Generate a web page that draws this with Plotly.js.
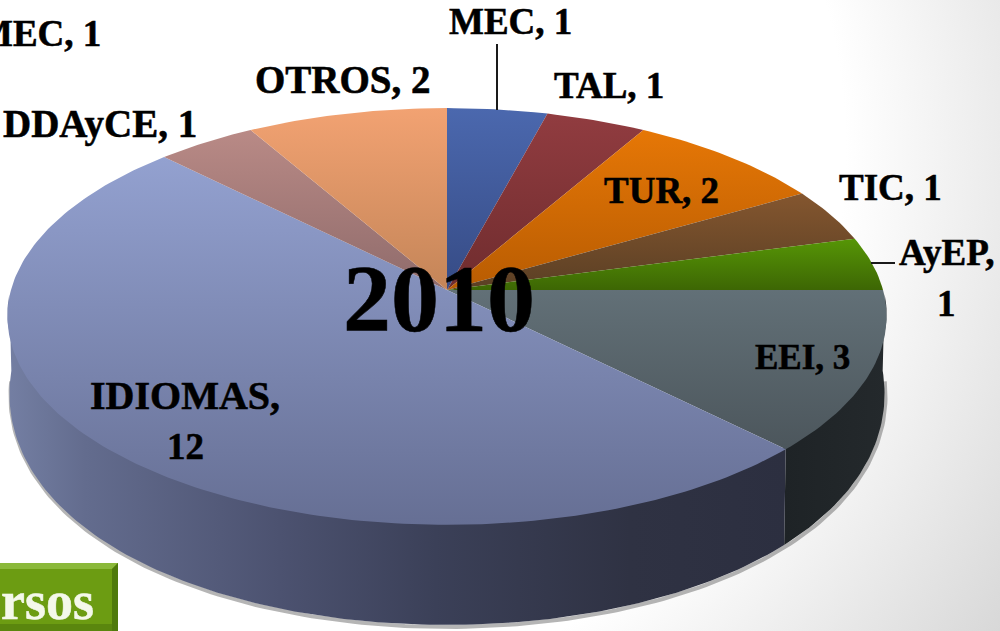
<!DOCTYPE html>
<html><head><meta charset="utf-8">
<script src="https://cdn.plot.ly/plotly-3.0.1.min.js"></script>
<style>html,body{margin:0;padding:0;width:1000px;height:631px;overflow:hidden;background:radial-gradient(circle 880px at 300px 150px,#ffffff 62%,#d4d4d4 100%);}#c{width:1000px;height:631px}
.annotation-text{stroke:#000;stroke-width:.55px}
.annotation[data-index="13"] .annotation-text{stroke:#f4f8ea}
</style>
</head><body><div id="c"></div>
<script>
const categories=["MEC","TAL","TUR","TIC","AyEP","EEI","IDIOMAS","DDAyCE","OTROS"];
const values=[1,1,2,1,1,3,12,1,2];
const topLight=["#4b68ae","#913c40","#e67706","#84562f","#569606","#627077","#93a1d0","#b98a86","#f2a272"];
const topDark=["#364b85","#6f2c2e","#b85c02","#5a3f24","#3d6604","#4c565c","#666f94","#8f6b6b","#c48558"];
const labelTexts=["MEC, 1","TAL, 1","TUR, 2","TIC, 1","AyEP,","1","EEI, 3","IDIOMAS,","12","DDAyCE, 1","OTROS, 2","MEC, 1"];
const centerTitle="2010";
const buttonText="rsos";

const labelX=[510,609,661,890,947,946,802,185,185,100,343,39];
const labelY=[21,85,190,187,252,303,357,395,446,124,79,33];
const labelSize=[37,37,37,37,37,37,35,40,37,39,39,37];
const sideStops={EEI:[[0,"#1e2326"],[1,"#24292c"]],IDIOMAS:[[0,"#747fa3"],[0.1,"#636c8e"],[0.35,"#4c5270"],[0.55,"#3b4058"],[0.8,"#2f3243"],[1,"#2c2f40"]]};
const cx=447,cy=290,rx=436,ry=205,k=0.127;
const bcy=362,brx=434,bry=249,bkx=0.127,bky=0.053;
const rad=d=>d*Math.PI/180;
function topPt(d){const u=Math.sin(rad(d)),v=Math.cos(rad(d)),w=1+k*v;return [cx+rx*u/w,cy-ry*v/w];}
function botPt(d){const u=Math.sin(rad(d)),v=Math.cos(rad(d));return [cx+brx*u/(1+bkx*v),bcy-bry*v/(1+bky*v)];}
function arc(fn,a,b){const o=[];const n=Math.max(2,Math.ceil(Math.abs(b-a)));for(let i=0;i<=n;i++)o.push(fn(a+(b-a)*i/n));return o;}
const total=values.reduce((s,v)=>s+v,0);
const traces=[];
const visA=92,visB=268;
const sh=arc(botPt,visA+2,visB-2);
traces.push({x:sh.map(p=>p[0]+1),y:sh.map(p=>p[1]+2),mode:"lines",line:{color:"rgba(90,90,90,0.45)",width:4},hoverinfo:"skip"});
let acc=0;const spans=values.map(v=>{const s=[acc,acc+v/total*360];acc=s[1];return s;});
categories.forEach((c,i)=>{
  const a=Math.max(spans[i][0],visA),b=Math.min(spans[i][1],visB);
  if(b<=a||!sideStops[c])return;
  const pts=arc(topPt,a,b).map(p=>[p[0],p[1]-3]).concat(arc(botPt,b,a));pts.push(pts[0]);
  const xs=pts.map(p=>p[0]);
  traces.push({x:xs,y:pts.map(p=>p[1]),mode:"lines",fill:"toself",line:{width:0},hoverinfo:"skip",
    fillgradient:{type:"horizontal",start:Math.min(...xs),stop:Math.max(...xs),colorscale:sideStops[c]}});
});
categories.forEach((c,i)=>{
  const pts=[[cx,cy]].concat(arc(topPt,spans[i][0],spans[i][1]));pts.push([cx,cy]);
  const ys=pts.map(p=>p[1]);
  traces.push({name:c,x:pts.map(p=>p[0]),y:ys,mode:"lines",fill:"toself",line:{width:0},hoverinfo:"name",
    fillgradient:{type:"vertical",start:Math.min(...ys),stop:Math.max(...ys),colorscale:[[0,topLight[i]],[1,topDark[i]]]}});
});
const fam="'Liberation Serif',serif";
const ann=labelTexts.map((t,i)=>({text:"<b>"+t+"</b>",x:labelX[i],y:labelY[i],xref:"x",yref:"y",showarrow:false,xanchor:"center",yanchor:"middle",font:{family:fam,size:labelSize[i],color:"#000"}}));
ann.push({text:"<b>"+centerTitle+"</b>",x:439,y:298,xref:"x",yref:"y",showarrow:false,xanchor:"center",yanchor:"middle",font:{family:fam,size:96,color:"#000"}});
ann.push({text:"<b>"+buttonText+"</b>",x:47,y:601,xref:"x",yref:"y",showarrow:false,xanchor:"center",yanchor:"middle",font:{family:fam,size:54,color:"#f4f8ea"}});
const shapes=[
 {type:"rect",x0:-5,x1:118,y0:563,y1:640,fillcolor:"#6c9c12",line:{width:0},layer:"above"},
 {type:"path",path:"M -5 563 L 118 563 L 112 569 L -5 569 Z",fillcolor:"#8bb93a",line:{width:0},layer:"above"},
 {type:"path",path:"M 118 563 L 118 640 L 112 640 L 112 569 Z",fillcolor:"#4f7a0c",line:{width:0},layer:"above"},
 {type:"path",path:"M -5 624 L 112 624 L 112 640 L -5 640 Z",fillcolor:"#5a860e",line:{width:0},layer:"above"},
 {type:"line",x0:497,x1:497,y0:44,y1:110,line:{color:"#1a1a1a",width:2},layer:"above"},
 {type:"line",x0:871,x1:895,y0:263,y1:263,line:{color:"#1a1a1a",width:2},layer:"above"}
];
const layout={width:1000,height:631,margin:{l:0,r:0,t:0,b:0},showlegend:false,paper_bgcolor:"rgba(0,0,0,0)",plot_bgcolor:"rgba(0,0,0,0)",
 xaxis:{range:[0,1000],visible:false,fixedrange:true},yaxis:{range:[631,0],visible:false,fixedrange:true},annotations:ann,shapes:shapes};
Plotly.newPlot("c",traces,layout,{displayModeBar:false,staticPlot:true});
</script></body></html>
